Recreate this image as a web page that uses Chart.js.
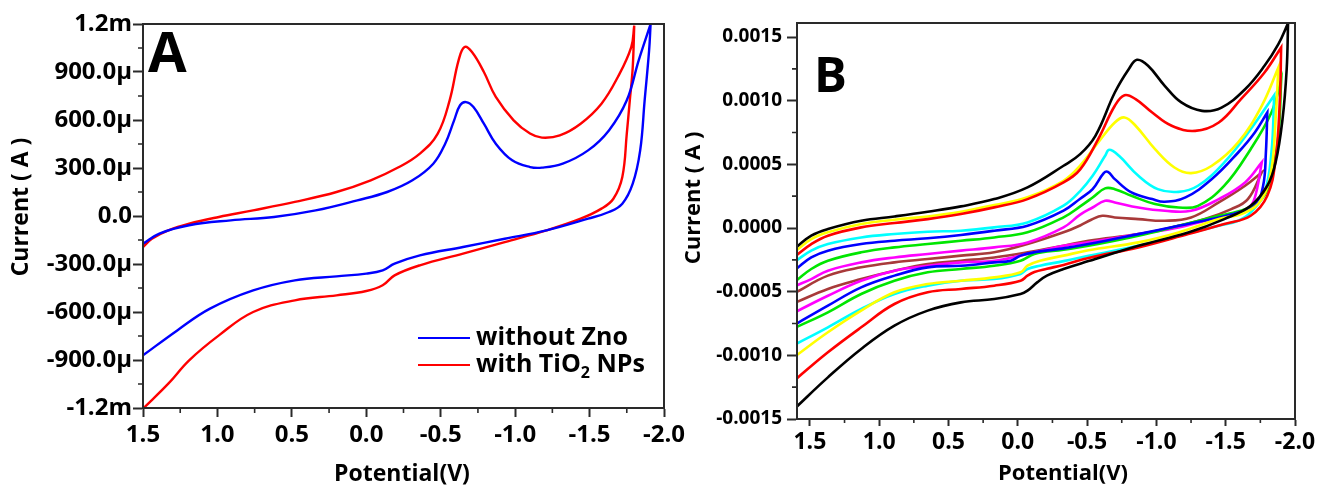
<!DOCTYPE html>
<html>
<head>
<meta charset="utf-8">
<script src="https://cdn.jsdelivr.net/npm/chart.js@4.4.1/dist/chart.umd.min.js"></script>
<style>
  body { margin: 0; background: #fff; }
  #wrap { position: relative; width: 1318px; height: 486px; overflow: hidden; }
  canvas { position: absolute; top: 0; }
  #cvA { left: 0; }
  #cvB { left: 665px; }
</style>
</head>
<body>
<div id="wrap">
  <canvas id="cvA" width="700" height="486"></canvas>
  <canvas id="cvB" width="653" height="486"></canvas>
</div>
<script>
// potentials in V, currents in mA
// each loop: forward scan then reverse scan, switching potential listed twice

// ---- panel A ----
const potA_noZnO = [1.5, 1.39, 1.19, 0.91, 0.62, 0.34, 0.06, -0.14, -0.31, -0.45, -0.53, -0.59, -0.63, -0.67, -0.72, -0.79, -0.87, -0.98, -1.10, -1.18, -1.32, -1.49, -1.63, -1.75, -1.83, -1.91,
  -1.91, -1.90, -1.87, -1.84, -1.79, -1.72, -1.63, -1.49, -1.21, -0.93, -0.65, -0.36, -0.19, -0.11, 0.0, 0.20, 0.48, 0.76, 1.05, 1.27, 1.5];
const curA_noZnO = [-0.173, -0.110, -0.058, -0.027, -0.006, 0.035, 0.098, 0.150, 0.223, 0.327, 0.452, 0.598, 0.692, 0.712, 0.681, 0.577, 0.452, 0.348, 0.306, 0.302, 0.327, 0.410, 0.535, 0.723, 0.973, 1.20,
  1.20, 1.035, 0.723, 0.410, 0.202, 0.077, 0.025, -0.017, -0.090, -0.142, -0.194, -0.246, -0.298, -0.340, -0.360, -0.377, -0.402, -0.465, -0.579, -0.715, -0.871];

const potA_TiO2 = [1.5, 1.44, 1.33, 1.19, 0.99, 0.76, 0.48, 0.20, -0.03, -0.22, -0.36, -0.48, -0.56, -0.62, -0.66, -0.71, -0.79, -0.87, -0.99, -1.10, -1.18, -1.30, -1.44, -1.58, -1.69, -1.78, -1.80,
  -1.80, -1.79, -1.77, -1.75, -1.72, -1.66, -1.58, -1.44, -1.21, -0.93, -0.65, -0.36, -0.19, -0.11, 0.0, 0.20, 0.48, 0.76, 0.99, 1.19, 1.33, 1.5];
const curA_TiO2 = [-0.194, -0.142, -0.090, -0.048, -0.006, 0.035, 0.088, 0.150, 0.223, 0.306, 0.390, 0.515, 0.723, 0.973, 1.056, 1.025, 0.900, 0.744, 0.598, 0.515, 0.490, 0.504, 0.577, 0.702, 0.869, 1.056, 1.190,
  1.190, 0.930, 0.720, 0.515, 0.244, 0.108, 0.046, -0.017, -0.090, -0.163, -0.235, -0.308, -0.371, -0.433, -0.469, -0.496, -0.527, -0.600, -0.746, -0.902, -1.048, -1.204];

const labelsA = ['without Zno', 'with TiO₂ NPs'];
const xTicksA = [-2.0, -1.5, -1.0, -0.5, 0.0, 0.5, 1.0, 1.5];
const yTicksA = [-1.2, -0.9, -0.6, -0.3, 0.0, 0.3, 0.6, 0.9, 1.2];
const yLabelsA = ['-1.2m', '-900.0µ', '-600.0µ', '-300.0µ', '0.0', '300.0µ', '600.0µ', '900.0µ', '1.2m'];

// ---- panel B ----
const potB_black = [1.6, 1.49, 1.37, 1.13, 0.89, 0.65, 0.41, 0.17, -0.07, -0.33, -0.45, -0.56, -0.70, -0.80, -0.86, -0.94, -1.06, -1.18, -1.33, -1.47, -1.64, -1.78, -1.88, -1.95,
  -1.95, -1.94, -1.91, -1.86, -1.80, -1.68, -1.49, -1.23, -0.87, -0.51, -0.33, -0.21, -0.14, -0.07, -0.02, 0.17, 0.41, 0.65, 0.89, 1.13, 1.37, 1.6];
const curB_black = [-0.152, -0.060, -0.008, 0.057, 0.091, 0.128, 0.170, 0.227, 0.319, 0.489, 0.580, 0.724, 1.064, 1.247, 1.321, 1.274, 1.117, 0.986, 0.920, 0.946, 1.090, 1.274, 1.444, 1.609,
  1.609, 1.247, 0.855, 0.515, 0.332, 0.174, 0.070, -0.035, -0.140, -0.260, -0.322, -0.374, -0.427, -0.492, -0.518, -0.558, -0.584, -0.649, -0.767, -0.950, -1.173, -1.408];

const potB_red = [1.6, 1.49, 1.37, 1.13, 0.89, 0.65, 0.41, 0.17, -0.07, -0.33, -0.45, -0.58, -0.70, -0.77, -0.85, -0.97, -1.11, -1.28, -1.45, -1.61, -1.78, -1.90,
  -1.90, -1.89, -1.86, -1.80, -1.68, -1.49, -1.23, -0.87, -0.51, -0.33, -0.21, -0.12, -0.07, -0.02, 0.17, 0.41, 0.65, 0.89, 1.13, 1.37, 1.6];
const curB_red = [-0.217, -0.126, -0.060, 0.005, 0.039, 0.070, 0.110, 0.162, 0.227, 0.358, 0.460, 0.698, 0.960, 1.043, 1.012, 0.907, 0.803, 0.763, 0.829, 1.012, 1.221, 1.418,
  1.418, 0.986, 0.541, 0.253, 0.096, 0.031, -0.048, -0.153, -0.235, -0.290, -0.320, -0.345, -0.374, -0.414, -0.453, -0.479, -0.505, -0.597, -0.780, -0.976, -1.186];

const potB_yellow = [1.6, 1.49, 1.37, 1.13, 0.89, 0.65, 0.41, 0.17, -0.07, -0.33, -0.45, -0.58, -0.70, -0.77, -0.85, -0.99, -1.13, -1.25, -1.40, -1.59, -1.76, -1.88,
  -1.88, -1.86, -1.83, -1.76, -1.64, -1.45, -1.16, -0.87, -0.51, -0.33, -0.16, -0.07, -0.02, 0.17, 0.41, 0.65, 0.89, 1.13, 1.37, 1.6];
const curB_yellow = [-0.178, -0.087, -0.034, 0.031, 0.065, 0.091, 0.128, 0.180, 0.241, 0.371, 0.490, 0.672, 0.829, 0.868, 0.803, 0.619, 0.475, 0.431, 0.489, 0.672, 0.960, 1.261,
  1.261, 0.855, 0.462, 0.227, 0.122, 0.070, -0.035, -0.113, -0.175, -0.217, -0.257, -0.296, -0.348, -0.388, -0.414, -0.440, -0.505, -0.649, -0.819, -1.003];

const potB_cyan = [1.6, 1.49, 1.37, 1.13, 0.89, 0.65, 0.41, 0.17, -0.07, -0.33, -0.45, -0.54, -0.63, -0.66, -0.73, -0.87, -1.01, -1.16, -1.30, -1.49, -1.68, -1.85,
  -1.85, -1.83, -1.78, -1.68, -1.59, -1.45, -1.16, -0.87, -0.51, -0.33, -0.16, -0.07, -0.02, 0.17, 0.41, 0.65, 0.89, 1.13, 1.37, 1.6];
const curB_cyan = [-0.257, -0.178, -0.126, -0.074, -0.047, -0.029, -0.021, 0.005, 0.044, 0.175, 0.290, 0.410, 0.567, 0.614, 0.567, 0.410, 0.305, 0.284, 0.332, 0.515, 0.776, 1.043,
  1.043, 0.593, 0.279, 0.122, 0.057, 0.017, -0.061, -0.140, -0.218, -0.260, -0.296, -0.322, -0.361, -0.401, -0.414, -0.453, -0.518, -0.636, -0.780, -0.911];

const potB_blue = [1.6, 1.49, 1.37, 1.13, 0.89, 0.65, 0.41, 0.17, -0.07, -0.33, -0.45, -0.54, -0.62, -0.65, -0.70, -0.82, -0.97, -1.06, -1.21, -1.40, -1.59, -1.71, -1.80,
  -1.80, -1.79, -1.77, -1.71, -1.59, -1.40, -1.16, -0.87, -0.51, -0.33, -0.12, -0.02, 0.05, 0.17, 0.41, 0.65, 0.89, 1.13, 1.37, 1.6];
const curB_blue = [-0.322, -0.231, -0.178, -0.126, -0.100, -0.081, -0.055, -0.021, 0.018, 0.136, 0.230, 0.305, 0.431, 0.441, 0.384, 0.279, 0.227, 0.206, 0.240, 0.384, 0.593, 0.750, 0.907,
  0.907, 0.593, 0.332, 0.174, 0.122, 0.070, 0.017, -0.048, -0.126, -0.160, -0.191, -0.217, -0.257, -0.270, -0.296, -0.309, -0.374, -0.466, -0.610, -0.754];

const potB_green = [1.6, 1.49, 1.37, 1.13, 0.89, 0.65, 0.41, 0.17, -0.07, -0.33, -0.45, -0.54, -0.63, -0.70, -0.82, -0.99, -1.16, -1.30, -1.49, -1.68, -1.83, -1.90,
  -1.90, -1.88, -1.83, -1.76, -1.64, -1.45, -1.16, -0.87, -0.51, -0.33, -0.12, -0.02, 0.17, 0.41, 0.65, 0.89, 1.13, 1.37, 1.6];
const curB_green = [-0.414, -0.322, -0.257, -0.191, -0.152, -0.126, -0.100, -0.074, -0.034, 0.084, 0.170, 0.240, 0.311, 0.305, 0.253, 0.188, 0.161, 0.174, 0.332, 0.619, 0.907, 1.156,
  1.156, 0.724, 0.410, 0.227, 0.148, 0.096, 0.017, -0.061, -0.140, -0.170, -0.204, -0.257, -0.296, -0.322, -0.348, -0.414, -0.518, -0.662, -0.780];

const potB_magenta = [1.6, 1.49, 1.37, 1.13, 0.89, 0.65, 0.41, 0.17, -0.07, -0.33, -0.45, -0.54, -0.63, -0.70, -0.87, -1.06, -1.25, -1.45, -1.64, -1.76,
  -1.76, -1.72, -1.68, -1.59, -1.40, -1.16, -0.87, -0.51, -0.33, -0.12, -0.02, 0.17, 0.41, 0.65, 0.89, 1.13, 1.37, 1.6];
const curB_magenta = [-0.453, -0.401, -0.335, -0.270, -0.231, -0.204, -0.178, -0.152, -0.113, 0.005, 0.105, 0.161, 0.214, 0.201, 0.161, 0.135, 0.135, 0.227, 0.358, 0.515,
  0.515, 0.279, 0.174, 0.122, 0.070, 0.004, -0.048, -0.113, -0.139, -0.191, -0.217, -0.257, -0.270, -0.296, -0.335, -0.414, -0.532, -0.657];

const potB_brown = [1.6, 1.37, 1.13, 0.89, 0.65, 0.41, 0.17, -0.07, -0.33, -0.45, -0.53, -0.61, -0.70, -0.87, -1.06, -1.25, -1.45, -1.64, -1.76,
  -1.76, -1.66, -1.54, -1.35, -1.11, -0.87, -0.51, -0.33, -0.07, 0.17, 0.41, 0.65, 0.89, 1.13, 1.37, 1.6];
const curB_brown = [-0.505, -0.374, -0.309, -0.270, -0.244, -0.217, -0.191, -0.126, -0.034, 0.020, 0.065, 0.096, 0.083, 0.070, 0.057, 0.083, 0.201, 0.332, 0.436,
  0.436, 0.227, 0.148, 0.070, 0.004, -0.048, -0.100, -0.139, -0.191, -0.231, -0.257, -0.283, -0.335, -0.401, -0.479, -0.584];

const xTicksB = [-2.0, -1.5, -1.0, -0.5, 0.0, 0.5, 1.0, 1.5];
const yTicksB = [-1.5, -1.0, -0.5, 0.0, 0.5, 1.0, 1.5];
const yLabelsB = ['-0.0015', '-0.0010', '-0.0005', '0.0000', '0.0005', '0.0010', '0.0015'];

const axisColor = '#2a2a2a';
Chart.defaults.font.family = "'Open Sans', sans-serif";
Chart.defaults.font.weight = 'bold';
Chart.defaults.color = '#000';

function pts(pot, cur) {
  return pot.map((e, i) => ({x: e, y: cur[i]}));
}
function mids(ticks) {
  const out = [];
  for (let i = 1; i < ticks.length; i++) out.push((ticks[i - 1] + ticks[i]) / 2);
  return out;
}
function curve(label, pot, cur, color, width) {
  return {label, data: pts(pot, cur), borderColor: color, backgroundColor: color,
    showLine: true, pointRadius: 0, borderWidth: width, tension: 0.4, fill: false};
}

// frame, minor ticks, axis titles, panel letter and legend
const decorations = {
  id: 'decorations',
  afterDraw(chart, args, o) {
    const {ctx, chartArea: a, scales: {x, y}} = chart;
    ctx.save();
    ctx.strokeStyle = axisColor;
    ctx.lineWidth = 2;
    ctx.strokeRect(a.left, a.top, a.right - a.left, a.bottom - a.top);
    ctx.lineWidth = 1.6;
    ctx.beginPath();
    mids(o.xTicks).forEach(v => {
      const p = x.getPixelForValue(v);
      ctx.moveTo(p, a.bottom); ctx.lineTo(p, a.bottom + o.xMinor);
    });
    mids(o.yTicks).forEach(v => {
      const p = y.getPixelForValue(v);
      ctx.moveTo(a.left, p); ctx.lineTo(a.left - o.yMinor, p);
    });
    ctx.stroke();

    ctx.fillStyle = '#000';
    ctx.textAlign = 'left';
    ctx.textBaseline = 'alphabetic';
    ctx.font = `bold ${o.letterSize}px 'Open Sans'`;
    ctx.fillText(o.letter, o.letterX, o.letterY);

    ctx.font = `bold ${o.titleSize}px 'Open Sans'`;
    ctx.textAlign = 'center';
    ctx.textBaseline = 'middle';
    ctx.fillText('Potential(V)', o.xTitleX, o.xTitleY);
    ctx.save();
    ctx.translate(o.yTitleX, o.yTitleY);
    ctx.rotate(-Math.PI / 2);
    ctx.fillText('Current ( A )', 0, 0);
    ctx.restore();

    if (o.legend) {
      const lg = o.legend;
      chart.data.datasets.forEach((ds, i) => {
        const ly = lg.y + i * lg.gap;
        ctx.strokeStyle = ds.borderColor;
        ctx.lineWidth = 2.2;
        ctx.beginPath();
        ctx.moveTo(lg.x, ly); ctx.lineTo(lg.x + lg.len, ly);
        ctx.stroke();
        let tx = lg.x + lg.len + 6;
        ctx.textAlign = 'left';
        ctx.textBaseline = 'middle';
        ds.label.split(/(₂)/).forEach(part => {
          if (part === '₂') {
            ctx.font = `bold ${Math.round(lg.size * 0.62)}px 'Open Sans'`;
            ctx.fillText('2', tx, ly + lg.size * 0.32);
            tx += ctx.measureText('2').width;
          } else {
            ctx.font = `bold ${lg.size}px 'Open Sans'`;
            ctx.fillText(part, tx, ly);
            tx += ctx.measureText(part).width;
          }
        });
      });
    }
    ctx.restore();
  }
};

function axes(p) {
  return {
    x: {
      type: 'linear', reverse: true, min: p.xMin, max: p.xMax,
      afterBuildTicks: s => { s.ticks = p.xTicks.map(v => ({value: v})); },
      afterFit: s => { s.height = p.xHeight; },
      ticks: {font: {size: p.xFont}, padding: p.xPad, maxRotation: 0, autoSkip: false,
        callback: v => v.toFixed(1)},
      grid: {drawOnChartArea: false, tickLength: p.xTick, tickColor: axisColor, tickWidth: 2},
      border: {color: axisColor, width: 2}
    },
    y: {
      type: 'linear', min: p.yMin, max: p.yMax,
      afterBuildTicks: s => { s.ticks = p.yTicks.map(v => ({value: v})); },
      afterFit: s => { s.width = p.yWidth; },
      ticks: {font: {size: p.yFont}, padding: p.yPad, autoSkip: false,
        callback: (v, i) => p.yLabels[i]},
      grid: {drawOnChartArea: false, tickLength: p.yTick, tickColor: axisColor, tickWidth: 2},
      border: {color: axisColor, width: 2}
    }
  };
}

new Chart(document.getElementById('cvA'), {
  type: 'scatter',
  data: {
    datasets: [
      curve(labelsA[0], potA_noZnO, curA_noZnO, '#0000ff', 2.4),
      curve(labelsA[1], potA_TiO2, curA_TiO2, '#ff0000', 2.4)
    ]
  },
  options: {
    responsive: false, animation: false, devicePixelRatio: 1,
    layout: {padding: {top: 24, right: 36, left: 0, bottom: 0}},
    scales: axes({xMin: -2.0, xMax: 1.5, xTicks: xTicksA, xHeight: 78, xFont: 24, xPad: 4, xTick: 9,
      yMin: -1.2, yMax: 1.2, yTicks: yTicksA, yLabels: yLabelsA, yWidth: 143, yFont: 24, yPad: 1, yTick: 10}),
    plugins: {
      legend: {display: false},
      tooltip: {enabled: false},
      decorations: {xTicks: xTicksA, yTicks: yTicksA, xMinor: 5, yMinor: 5,
        letter: 'A', letterSize: 56, letterX: 148, letterY: 72,
        titleSize: 23, xTitleX: 402, xTitleY: 474, yTitleX: 21, yTitleY: 207,
        legend: {x: 418, y: 338, gap: 27, len: 52, size: 25}}
    }
  },
  plugins: [decorations]
});

new Chart(document.getElementById('cvB'), {
  type: 'scatter',
  data: {
    datasets: [
      curve('black', potB_black, curB_black, '#000000', 2.6),
      curve('red', potB_red, curB_red, '#ff0000', 2.6),
      curve('yellow', potB_yellow, curB_yellow, '#ffff00', 2.6),
      curve('cyan', potB_cyan, curB_cyan, '#00ffff', 2.6),
      curve('blue', potB_blue, curB_blue, '#0000ff', 2.6),
      curve('green', potB_green, curB_green, '#00e600', 2.6),
      curve('magenta', potB_magenta, curB_magenta, '#ff00ff', 2.6),
      curve('brown', potB_brown, curB_brown, '#a83a3a', 2.6)
    ]
  },
  options: {
    responsive: false, animation: false, devicePixelRatio: 1,
    layout: {padding: {top: 23, right: 23, left: 0, bottom: 0}},
    scales: axes({xMin: -2.0, xMax: 1.593, xTicks: xTicksB, xHeight: 67, xFont: 23, xPad: 3, xTick: 7,
      yMin: -1.5, yMax: 1.61, yTicks: yTicksB, yLabels: yLabelsB, yWidth: 132, yFont: 19, yPad: 5, yTick: 10}),
    plugins: {
      legend: {display: false},
      tooltip: {enabled: false},
      decorations: {xTicks: xTicksB, yTicks: yTicksB, xMinor: 4, yMinor: 5,
        letter: 'B', letterSize: 49, letterX: 149, letterY: 92,
        titleSize: 22, xTitleX: 398, xTitleY: 474, yTitleX: 29, yTitleY: 198}
    }
  },
  plugins: [decorations]
});
</script>
</body>
</html>
